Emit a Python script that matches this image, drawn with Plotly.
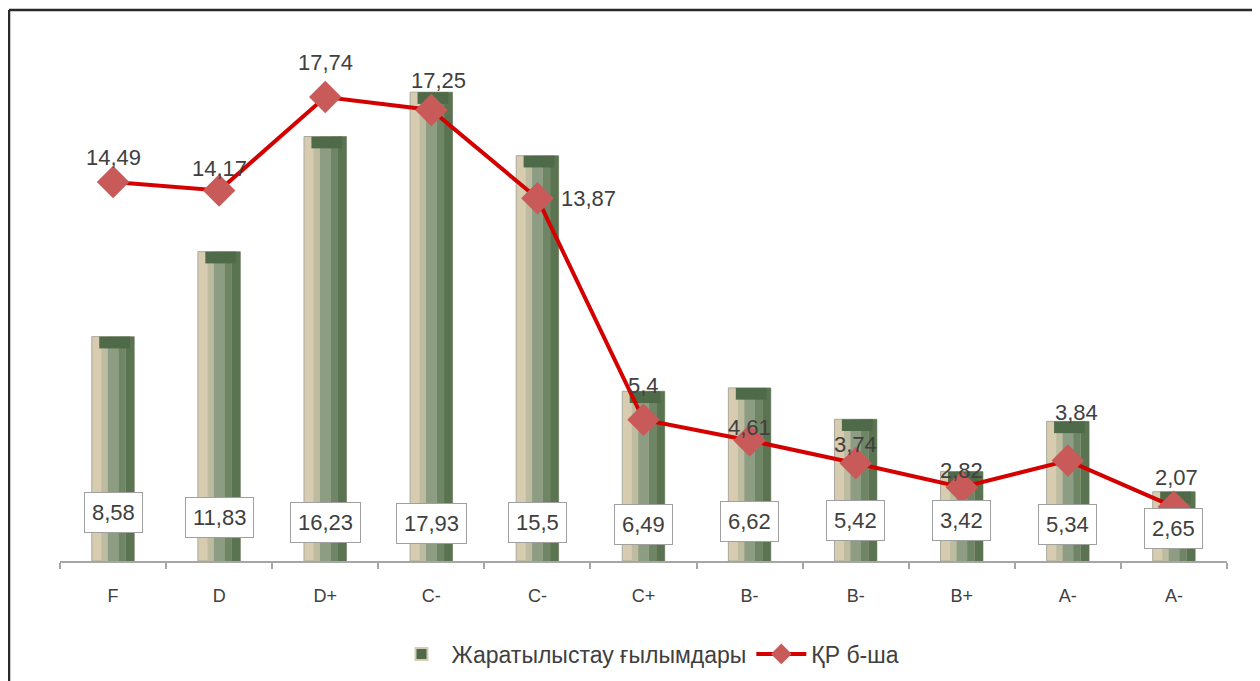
import plotly.graph_objects as go

categories = ["F", "D", "D+", "C-", "C-", "C+", "B-", "B-", "B+", "A-", "A-"]
bar_values = [8.58, 11.83, 16.23, 17.93, 15.5, 6.49, 6.62, 5.42, 3.42, 5.34, 2.65]
line_values = [14.49, 14.17, 17.74, 17.25, 13.87, 5.4, 4.61, 3.74, 2.82, 3.84, 2.07]
bar_name = "Жаратылыстау ғылымдары"
line_name = "ҚР б-ша"

xs = list(range(len(categories)))
FONT = "Liberation Sans, Arial, sans-serif"
TXT = "#404040"


def fmt(v):
    return f"{v:g}".replace(".", ",")


fig = go.Figure()

# 3D-looking bar built from overlaid layers
layers = [
    (-0.20, 0.40, "#D8CCB0", True),
    (-0.11, 0.06, "#BDBCA0", False),
    (-0.05, 0.10, "#8D9D83", False),
    (0.05, 0.07, "#6F8666", False),
    (0.12, 0.08, "#5A7451", False),
]
for i, (off, w, col, outline) in enumerate(layers):
    fig.add_trace(go.Bar(
        x=xs, y=bar_values, offset=off, width=w,
        marker=dict(color=col,
                    line=dict(color="#A8A89C" if outline else col, width=1 if outline else 0)),
        showlegend=False, hoverinfo="skip",
    ))
# top bevel
fig.add_trace(go.Bar(
    x=xs, y=[0.45] * len(xs), base=[v - 0.45 for v in bar_values],
    offset=-0.13, width=0.29, marker=dict(color="#4F6A48", line=dict(width=0)),
    showlegend=False, hoverinfo="skip",
))
# legend entry for bars
fig.add_trace(go.Bar(
    x=[None], y=[None], name=bar_name,
    marker=dict(color="#4F6A48", line=dict(color="#D8CCB0", width=2)),
))

fig.add_trace(go.Scatter(
    x=xs, y=line_values, mode="lines+markers", name=line_name,
    line=dict(color="#D40000", width=4),
    marker=dict(symbol="diamond", size=25, color="#C95A5A", line=dict(width=0)),
))

# bar value boxes
box_shift = [49, 44, 39, 38, 39, 37, 40, 41, 41, 37, 33]
for x, v, s in zip(xs, bar_values, box_shift):
    fig.add_annotation(
        x=x, y=0, text=fmt(v), showarrow=False, yanchor="middle", yshift=s,
        font=dict(family=FONT, size=22, color=TXT),
        bgcolor="white", bordercolor="#A0A0A0", borderwidth=1, borderpad=7,
    )

# line value labels
lab_dx = [0, 0, 0, 7, 51, 0, 0, 0, 0, 9, 3]
lab_dy = [25, 22, 35, 29, 0, 34, 13, 19, 17, 48, 29]
for x, v, dx, dy in zip(xs, line_values, lab_dx, lab_dy):
    fig.add_annotation(
        x=x, y=v, text=fmt(v), showarrow=False, xshift=dx, yshift=dy,
        font=dict(family=FONT, size=22, color=TXT),
    )

# page body margin offset (8 px) compensated
OFF = 8
FW, FH = 1260, 681
L, R, T, B = 60 - OFF, 33 + OFF, 30 - OFF, 120 + OFF
W, H = FW - L - R, FH - T - B


def px(x):
    return (x - OFF - L) / W


def py(y):
    return (FH - B - (y - OFF)) / H


fig.add_shape(type="line", xref="paper", yref="paper",
              x0=px(9), x1=px(1275), y0=py(10), y1=py(10),
              line=dict(color="#2A2A2A", width=2.5))
fig.add_shape(type="line", xref="paper", yref="paper",
              x0=px(9), x1=px(9), y0=py(10), y1=py(695),
              line=dict(color="#2A2A2A", width=2.5))

fig.update_layout(
    width=FW, height=FH,
    margin=dict(l=L, r=R, t=T, b=B),
    paper_bgcolor="white", plot_bgcolor="white",
    barmode="overlay",
    font=dict(family=FONT, color=TXT),
    showlegend=True,
    legend=dict(orientation="h", x=px(648), xanchor="center", y=py(654), yanchor="middle",
                font=dict(family=FONT, size=23, color=TXT), itemwidth=50,
                traceorder="normal"),
    xaxis=dict(
        range=[-0.5, len(xs) - 0.5], tickvals=xs, ticktext=categories,
        ticks="", showgrid=False, zeroline=False,
        showline=True, linecolor="#A6A6A6", linewidth=1.5,
        tickfont=dict(family=FONT, size=18, color=TXT), ticklabelstandoff=18,
        minor=dict(tickvals=[i - 0.5 for i in range(len(xs) + 1)], ticks="outside",
                   ticklen=6, tickcolor="#A6A6A6", tickwidth=1.5, showgrid=False),
    ),
    yaxis=dict(range=[0, H / 26.15], visible=False, showgrid=False, zeroline=False),
)

fig.write_html("out.html")
